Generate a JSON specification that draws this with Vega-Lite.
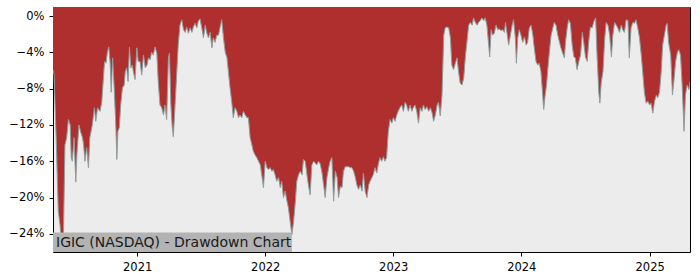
{
  "$schema": "https://vega.github.io/schema/vega-lite/v6.json",
  "width": 637,
  "height": 245,
  "autosize": {"type": "none"},
  "padding": {"left": 53, "top": 7, "right": 10, "bottom": 28},
  "background": "white",
  "config": {
    "view": {"stroke": "black", "strokeWidth": 1, "fill": "#ececec"},
    "font": "DejaVu Sans",
    "axis": {
      "domain": false,
      "grid": false,
      "ticks": true,
      "tickColor": "black",
      "tickSize": 4,
      "labelColor": "black",
      "labelFont": "DejaVu Sans",
      "labelFontSize": 11.5,
      "title": null
    }
  },
  "data": {
    "values": [
      {"date": "2020-05-06", "dd": -5.9},
      {"date": "2020-05-09", "dd": -6.5},
      {"date": "2020-05-15", "dd": -13.4},
      {"date": "2020-05-21", "dd": -21.5},
      {"date": "2020-05-26", "dd": -23.0},
      {"date": "2020-05-31", "dd": -25.5},
      {"date": "2020-06-05", "dd": -23.7},
      {"date": "2020-06-09", "dd": -14.2},
      {"date": "2020-06-14", "dd": -13.4},
      {"date": "2020-06-19", "dd": -11.4},
      {"date": "2020-06-24", "dd": -12.0},
      {"date": "2020-06-27", "dd": -15.6},
      {"date": "2020-06-30", "dd": -16.0},
      {"date": "2020-07-05", "dd": -13.4},
      {"date": "2020-07-10", "dd": -18.3},
      {"date": "2020-07-13", "dd": -15.3},
      {"date": "2020-07-19", "dd": -12.0},
      {"date": "2020-07-24", "dd": -12.8},
      {"date": "2020-07-29", "dd": -13.4},
      {"date": "2020-08-01", "dd": -14.1},
      {"date": "2020-08-05", "dd": -16.0},
      {"date": "2020-08-10", "dd": -14.5},
      {"date": "2020-08-15", "dd": -16.7},
      {"date": "2020-08-19", "dd": -13.4},
      {"date": "2020-08-26", "dd": -12.0},
      {"date": "2020-09-01", "dd": -10.1},
      {"date": "2020-09-05", "dd": -11.6},
      {"date": "2020-09-10", "dd": -10.1},
      {"date": "2020-09-17", "dd": -10.5},
      {"date": "2020-09-22", "dd": -9.5},
      {"date": "2020-09-25", "dd": -7.8},
      {"date": "2020-09-30", "dd": -5.0},
      {"date": "2020-10-04", "dd": -5.2},
      {"date": "2020-10-08", "dd": -4.0},
      {"date": "2020-10-12", "dd": -3.4},
      {"date": "2020-10-16", "dd": -5.2},
      {"date": "2020-10-19", "dd": -8.4},
      {"date": "2020-10-23", "dd": -4.6},
      {"date": "2020-10-27", "dd": -7.6},
      {"date": "2020-11-01", "dd": -12.0},
      {"date": "2020-11-04", "dd": -15.8},
      {"date": "2020-11-07", "dd": -12.7},
      {"date": "2020-11-11", "dd": -12.3},
      {"date": "2020-11-15", "dd": -9.8},
      {"date": "2020-11-20", "dd": -7.9},
      {"date": "2020-11-25", "dd": -7.6},
      {"date": "2020-11-28", "dd": -6.1},
      {"date": "2020-12-02", "dd": -5.7},
      {"date": "2020-12-06", "dd": -7.2},
      {"date": "2020-12-10", "dd": -3.4},
      {"date": "2020-12-14", "dd": -5.7},
      {"date": "2020-12-18", "dd": -5.4},
      {"date": "2020-12-21", "dd": -6.1},
      {"date": "2020-12-26", "dd": -7.0},
      {"date": "2020-12-31", "dd": -3.5},
      {"date": "2021-01-04", "dd": -5.0},
      {"date": "2021-01-09", "dd": -5.0},
      {"date": "2021-01-14", "dd": -6.5},
      {"date": "2021-01-19", "dd": -4.3},
      {"date": "2021-01-24", "dd": -5.7},
      {"date": "2021-01-29", "dd": -5.4},
      {"date": "2021-02-02", "dd": -4.6},
      {"date": "2021-02-07", "dd": -4.8},
      {"date": "2021-02-11", "dd": -4.0},
      {"date": "2021-02-16", "dd": -4.3},
      {"date": "2021-02-21", "dd": -3.4},
      {"date": "2021-02-26", "dd": -4.1},
      {"date": "2021-03-02", "dd": -7.2},
      {"date": "2021-03-07", "dd": -9.8},
      {"date": "2021-03-12", "dd": -10.1},
      {"date": "2021-03-17", "dd": -10.9},
      {"date": "2021-03-21", "dd": -9.8},
      {"date": "2021-03-26", "dd": -11.4},
      {"date": "2021-03-31", "dd": -4.6},
      {"date": "2021-04-03", "dd": -4.1},
      {"date": "2021-04-07", "dd": -9.8},
      {"date": "2021-04-11", "dd": -12.3},
      {"date": "2021-04-14", "dd": -13.3},
      {"date": "2021-04-19", "dd": -9.8},
      {"date": "2021-04-24", "dd": -6.1},
      {"date": "2021-04-28", "dd": -3.2},
      {"date": "2021-05-03", "dd": -1.0},
      {"date": "2021-05-08", "dd": -0.4},
      {"date": "2021-05-13", "dd": -1.5},
      {"date": "2021-05-18", "dd": -1.8},
      {"date": "2021-05-22", "dd": -1.2},
      {"date": "2021-05-27", "dd": -1.9},
      {"date": "2021-06-01", "dd": -1.3},
      {"date": "2021-06-06", "dd": -1.8},
      {"date": "2021-06-10", "dd": -1.2},
      {"date": "2021-06-15", "dd": -0.8},
      {"date": "2021-06-20", "dd": -1.3},
      {"date": "2021-06-24", "dd": -0.6},
      {"date": "2021-06-29", "dd": -0.3},
      {"date": "2021-07-04", "dd": -1.3},
      {"date": "2021-07-09", "dd": -2.4},
      {"date": "2021-07-14", "dd": -1.0},
      {"date": "2021-07-18", "dd": -1.8},
      {"date": "2021-07-23", "dd": -2.4},
      {"date": "2021-07-28", "dd": -1.8},
      {"date": "2021-08-02", "dd": -3.5},
      {"date": "2021-08-06", "dd": -2.4},
      {"date": "2021-08-11", "dd": -2.9},
      {"date": "2021-08-16", "dd": -2.1},
      {"date": "2021-08-21", "dd": -2.1},
      {"date": "2021-08-25", "dd": -1.3},
      {"date": "2021-08-30", "dd": -0.4},
      {"date": "2021-09-04", "dd": -2.4},
      {"date": "2021-09-09", "dd": -4.0},
      {"date": "2021-09-14", "dd": -4.6},
      {"date": "2021-09-18", "dd": -6.1},
      {"date": "2021-09-23", "dd": -8.0},
      {"date": "2021-09-28", "dd": -9.6},
      {"date": "2021-10-02", "dd": -11.2},
      {"date": "2021-10-07", "dd": -10.1},
      {"date": "2021-10-12", "dd": -10.5},
      {"date": "2021-10-17", "dd": -11.2},
      {"date": "2021-10-21", "dd": -10.9},
      {"date": "2021-10-26", "dd": -11.2},
      {"date": "2021-10-31", "dd": -10.5},
      {"date": "2021-11-05", "dd": -10.9},
      {"date": "2021-11-10", "dd": -11.2},
      {"date": "2021-11-14", "dd": -11.2},
      {"date": "2021-11-19", "dd": -13.4},
      {"date": "2021-11-24", "dd": -14.2},
      {"date": "2021-11-28", "dd": -14.9},
      {"date": "2021-12-03", "dd": -15.3},
      {"date": "2021-12-08", "dd": -15.6},
      {"date": "2021-12-13", "dd": -16.0},
      {"date": "2021-12-18", "dd": -16.4},
      {"date": "2021-12-22", "dd": -17.5},
      {"date": "2021-12-27", "dd": -18.9},
      {"date": "2022-01-01", "dd": -16.0},
      {"date": "2022-01-06", "dd": -16.7},
      {"date": "2022-01-10", "dd": -16.9},
      {"date": "2022-01-15", "dd": -16.7},
      {"date": "2022-01-20", "dd": -17.1},
      {"date": "2022-01-24", "dd": -16.9},
      {"date": "2022-01-29", "dd": -17.5},
      {"date": "2022-02-03", "dd": -18.2},
      {"date": "2022-02-08", "dd": -17.8},
      {"date": "2022-02-13", "dd": -18.9},
      {"date": "2022-02-17", "dd": -18.2},
      {"date": "2022-02-22", "dd": -20.0},
      {"date": "2022-02-27", "dd": -19.3},
      {"date": "2022-03-04", "dd": -20.4},
      {"date": "2022-03-08", "dd": -21.1},
      {"date": "2022-03-13", "dd": -22.6},
      {"date": "2022-03-18", "dd": -24.1},
      {"date": "2022-03-23", "dd": -22.6},
      {"date": "2022-03-28", "dd": -20.4},
      {"date": "2022-04-01", "dd": -18.2},
      {"date": "2022-04-06", "dd": -17.5},
      {"date": "2022-04-11", "dd": -17.1},
      {"date": "2022-04-16", "dd": -17.5},
      {"date": "2022-04-20", "dd": -15.8},
      {"date": "2022-04-25", "dd": -16.0},
      {"date": "2022-04-30", "dd": -17.5},
      {"date": "2022-05-04", "dd": -18.6},
      {"date": "2022-05-09", "dd": -19.7},
      {"date": "2022-05-14", "dd": -16.4},
      {"date": "2022-05-19", "dd": -16.0},
      {"date": "2022-05-24", "dd": -16.2},
      {"date": "2022-05-28", "dd": -16.4},
      {"date": "2022-06-02", "dd": -16.0},
      {"date": "2022-06-07", "dd": -16.3},
      {"date": "2022-06-12", "dd": -17.3},
      {"date": "2022-06-16", "dd": -18.5},
      {"date": "2022-06-21", "dd": -20.0},
      {"date": "2022-06-26", "dd": -17.8},
      {"date": "2022-07-01", "dd": -16.7},
      {"date": "2022-07-05", "dd": -16.0},
      {"date": "2022-07-10", "dd": -15.6},
      {"date": "2022-07-15", "dd": -20.4},
      {"date": "2022-07-20", "dd": -17.1},
      {"date": "2022-07-25", "dd": -17.8},
      {"date": "2022-07-29", "dd": -20.0},
      {"date": "2022-08-03", "dd": -18.8},
      {"date": "2022-08-08", "dd": -18.9},
      {"date": "2022-08-12", "dd": -17.1},
      {"date": "2022-08-17", "dd": -16.6},
      {"date": "2022-08-22", "dd": -16.6},
      {"date": "2022-08-27", "dd": -16.6},
      {"date": "2022-08-31", "dd": -16.7},
      {"date": "2022-09-05", "dd": -16.7},
      {"date": "2022-09-10", "dd": -17.1},
      {"date": "2022-09-15", "dd": -17.8},
      {"date": "2022-09-19", "dd": -18.6},
      {"date": "2022-09-24", "dd": -19.1},
      {"date": "2022-09-29", "dd": -18.6},
      {"date": "2022-10-04", "dd": -19.3},
      {"date": "2022-10-08", "dd": -17.3},
      {"date": "2022-10-13", "dd": -19.3},
      {"date": "2022-10-18", "dd": -20.0},
      {"date": "2022-10-23", "dd": -18.6},
      {"date": "2022-10-27", "dd": -18.2},
      {"date": "2022-11-01", "dd": -17.8},
      {"date": "2022-11-05", "dd": -17.5},
      {"date": "2022-11-10", "dd": -16.7},
      {"date": "2022-11-15", "dd": -17.3},
      {"date": "2022-11-19", "dd": -16.4},
      {"date": "2022-11-24", "dd": -15.6},
      {"date": "2022-11-29", "dd": -16.0},
      {"date": "2022-12-04", "dd": -15.5},
      {"date": "2022-12-08", "dd": -16.0},
      {"date": "2022-12-13", "dd": -15.6},
      {"date": "2022-12-18", "dd": -12.7},
      {"date": "2022-12-23", "dd": -11.4},
      {"date": "2022-12-28", "dd": -11.8},
      {"date": "2023-01-01", "dd": -11.2},
      {"date": "2023-01-06", "dd": -11.6},
      {"date": "2023-01-11", "dd": -10.9},
      {"date": "2023-01-15", "dd": -10.5},
      {"date": "2023-01-20", "dd": -10.1},
      {"date": "2023-01-25", "dd": -9.8},
      {"date": "2023-01-30", "dd": -10.5},
      {"date": "2023-02-04", "dd": -9.5},
      {"date": "2023-02-08", "dd": -9.8},
      {"date": "2023-02-13", "dd": -10.5},
      {"date": "2023-02-18", "dd": -9.8},
      {"date": "2023-02-23", "dd": -10.5},
      {"date": "2023-02-27", "dd": -10.1},
      {"date": "2023-03-04", "dd": -9.8},
      {"date": "2023-03-09", "dd": -10.5},
      {"date": "2023-03-14", "dd": -11.8},
      {"date": "2023-03-19", "dd": -10.1},
      {"date": "2023-03-24", "dd": -10.5},
      {"date": "2023-03-28", "dd": -9.8},
      {"date": "2023-04-02", "dd": -10.3},
      {"date": "2023-04-07", "dd": -10.0},
      {"date": "2023-04-12", "dd": -10.5},
      {"date": "2023-04-17", "dd": -10.1},
      {"date": "2023-04-22", "dd": -10.7},
      {"date": "2023-04-26", "dd": -11.6},
      {"date": "2023-05-01", "dd": -10.9},
      {"date": "2023-05-06", "dd": -9.8},
      {"date": "2023-05-10", "dd": -9.5},
      {"date": "2023-05-15", "dd": -11.0},
      {"date": "2023-05-20", "dd": -8.7},
      {"date": "2023-05-25", "dd": -2.1},
      {"date": "2023-05-29", "dd": -1.3},
      {"date": "2023-06-03", "dd": -1.2},
      {"date": "2023-06-08", "dd": -1.3},
      {"date": "2023-06-13", "dd": -2.4},
      {"date": "2023-06-17", "dd": -5.4},
      {"date": "2023-06-22", "dd": -5.9},
      {"date": "2023-06-27", "dd": -5.2},
      {"date": "2023-07-02", "dd": -4.6},
      {"date": "2023-07-06", "dd": -6.1},
      {"date": "2023-07-11", "dd": -7.4},
      {"date": "2023-07-16", "dd": -7.6},
      {"date": "2023-07-21", "dd": -6.8},
      {"date": "2023-07-26", "dd": -4.3},
      {"date": "2023-07-30", "dd": -2.9},
      {"date": "2023-08-04", "dd": -1.0},
      {"date": "2023-08-09", "dd": -0.7},
      {"date": "2023-08-14", "dd": -1.0},
      {"date": "2023-08-18", "dd": -0.2},
      {"date": "2023-08-23", "dd": -0.7},
      {"date": "2023-08-28", "dd": -1.0},
      {"date": "2023-09-01", "dd": -0.7},
      {"date": "2023-09-06", "dd": -0.5},
      {"date": "2023-09-11", "dd": -0.2},
      {"date": "2023-09-16", "dd": -0.5},
      {"date": "2023-09-20", "dd": -0.2},
      {"date": "2023-09-25", "dd": -1.0},
      {"date": "2023-09-30", "dd": -3.2},
      {"date": "2023-10-03", "dd": -4.5},
      {"date": "2023-10-07", "dd": -1.5},
      {"date": "2023-10-11", "dd": -2.1},
      {"date": "2023-10-16", "dd": -1.9},
      {"date": "2023-10-21", "dd": -1.0},
      {"date": "2023-10-26", "dd": -1.5},
      {"date": "2023-10-30", "dd": -1.4},
      {"date": "2023-11-04", "dd": -1.6},
      {"date": "2023-11-09", "dd": -1.5},
      {"date": "2023-11-14", "dd": -1.8},
      {"date": "2023-11-17", "dd": -0.7},
      {"date": "2023-11-21", "dd": -1.8},
      {"date": "2023-11-26", "dd": -3.2},
      {"date": "2023-12-01", "dd": -2.1},
      {"date": "2023-12-06", "dd": -1.0},
      {"date": "2023-12-10", "dd": -0.4},
      {"date": "2023-12-15", "dd": -2.4},
      {"date": "2023-12-18", "dd": -5.2},
      {"date": "2023-12-22", "dd": -2.4},
      {"date": "2023-12-26", "dd": -1.5},
      {"date": "2023-12-31", "dd": -2.1},
      {"date": "2024-01-05", "dd": -2.9},
      {"date": "2024-01-10", "dd": -2.3},
      {"date": "2024-01-15", "dd": -3.2},
      {"date": "2024-01-19", "dd": -2.9},
      {"date": "2024-01-24", "dd": -1.3},
      {"date": "2024-01-29", "dd": -1.0},
      {"date": "2024-02-03", "dd": -2.1},
      {"date": "2024-02-07", "dd": -3.5},
      {"date": "2024-02-12", "dd": -5.0},
      {"date": "2024-02-17", "dd": -5.4},
      {"date": "2024-02-21", "dd": -5.2},
      {"date": "2024-02-26", "dd": -6.1},
      {"date": "2024-03-02", "dd": -8.7},
      {"date": "2024-03-05", "dd": -10.3},
      {"date": "2024-03-09", "dd": -8.7},
      {"date": "2024-03-13", "dd": -7.6},
      {"date": "2024-03-17", "dd": -5.7},
      {"date": "2024-03-21", "dd": -4.0},
      {"date": "2024-03-26", "dd": -2.1},
      {"date": "2024-03-31", "dd": -1.3},
      {"date": "2024-04-04", "dd": -0.7},
      {"date": "2024-04-09", "dd": -1.0},
      {"date": "2024-04-14", "dd": -2.1},
      {"date": "2024-04-19", "dd": -2.9},
      {"date": "2024-04-23", "dd": -3.5},
      {"date": "2024-04-28", "dd": -4.1},
      {"date": "2024-05-03", "dd": -4.6},
      {"date": "2024-05-06", "dd": -2.9},
      {"date": "2024-05-11", "dd": -1.3},
      {"date": "2024-05-15", "dd": -0.4},
      {"date": "2024-05-20", "dd": -0.8},
      {"date": "2024-05-25", "dd": -3.2},
      {"date": "2024-05-30", "dd": -4.5},
      {"date": "2024-06-03", "dd": -4.6},
      {"date": "2024-06-08", "dd": -5.9},
      {"date": "2024-06-13", "dd": -5.0},
      {"date": "2024-06-18", "dd": -4.3},
      {"date": "2024-06-23", "dd": -1.8},
      {"date": "2024-06-27", "dd": -2.9},
      {"date": "2024-07-02", "dd": -4.5},
      {"date": "2024-07-07", "dd": -5.0},
      {"date": "2024-07-11", "dd": -2.9},
      {"date": "2024-07-16", "dd": -1.2},
      {"date": "2024-07-21", "dd": -1.3},
      {"date": "2024-07-26", "dd": -0.6},
      {"date": "2024-07-31", "dd": -0.2},
      {"date": "2024-08-04", "dd": -4.3},
      {"date": "2024-08-09", "dd": -8.4},
      {"date": "2024-08-12", "dd": -9.6},
      {"date": "2024-08-16", "dd": -7.3},
      {"date": "2024-08-21", "dd": -6.1},
      {"date": "2024-08-26", "dd": -2.4},
      {"date": "2024-08-30", "dd": -0.7},
      {"date": "2024-09-04", "dd": -1.0},
      {"date": "2024-09-09", "dd": -2.1},
      {"date": "2024-09-14", "dd": -4.5},
      {"date": "2024-09-18", "dd": -2.1},
      {"date": "2024-09-23", "dd": -0.7},
      {"date": "2024-09-28", "dd": -1.0},
      {"date": "2024-10-02", "dd": -1.3},
      {"date": "2024-10-07", "dd": -1.8},
      {"date": "2024-10-12", "dd": -1.0},
      {"date": "2024-10-16", "dd": -1.5},
      {"date": "2024-10-21", "dd": -1.8},
      {"date": "2024-10-26", "dd": -0.4},
      {"date": "2024-10-31", "dd": -0.5},
      {"date": "2024-11-04", "dd": -4.6},
      {"date": "2024-11-09", "dd": -1.3},
      {"date": "2024-11-14", "dd": -0.7},
      {"date": "2024-11-19", "dd": -0.8},
      {"date": "2024-11-23", "dd": -0.4},
      {"date": "2024-11-28", "dd": -1.3},
      {"date": "2024-12-03", "dd": -2.4},
      {"date": "2024-12-08", "dd": -4.3},
      {"date": "2024-12-12", "dd": -6.1},
      {"date": "2024-12-17", "dd": -8.4},
      {"date": "2024-12-22", "dd": -9.6},
      {"date": "2024-12-27", "dd": -9.4},
      {"date": "2025-01-01", "dd": -9.8},
      {"date": "2025-01-05", "dd": -9.6},
      {"date": "2025-01-10", "dd": -10.7},
      {"date": "2025-01-15", "dd": -9.4},
      {"date": "2025-01-20", "dd": -8.7},
      {"date": "2025-01-24", "dd": -9.0},
      {"date": "2025-01-29", "dd": -8.4},
      {"date": "2025-02-03", "dd": -6.1},
      {"date": "2025-02-07", "dd": -3.2},
      {"date": "2025-02-12", "dd": -2.1},
      {"date": "2025-02-17", "dd": -1.0},
      {"date": "2025-02-20", "dd": -0.8},
      {"date": "2025-02-24", "dd": -2.9},
      {"date": "2025-03-02", "dd": -4.3},
      {"date": "2025-03-07", "dd": -8.7},
      {"date": "2025-03-11", "dd": -7.2},
      {"date": "2025-03-16", "dd": -5.0},
      {"date": "2025-03-21", "dd": -4.0},
      {"date": "2025-03-25", "dd": -3.7},
      {"date": "2025-03-30", "dd": -4.3},
      {"date": "2025-04-04", "dd": -7.9},
      {"date": "2025-04-09", "dd": -12.7},
      {"date": "2025-04-13", "dd": -8.7},
      {"date": "2025-04-18", "dd": -7.6},
      {"date": "2025-04-23", "dd": -8.1},
      {"date": "2025-04-26", "dd": -7.2}
    ]
  },
  "encoding": {
    "x": {
      "field": "date",
      "type": "temporal",
      "scale": {"domain": [{"year": 2020, "month": 5, "date": 6}, {"year": 2025, "month": 4, "date": 26}]},
      "axis": {
        "values": [{"year": 2021, "month": 1, "date": 1}, {"year": 2022, "month": 1, "date": 1}, {"year": 2023, "month": 1, "date": 1}, {"year": 2024, "month": 1, "date": 1}, {"year": 2025, "month": 1, "date": 1}],
        "format": "%Y",
        "labelPadding": 5,
        "labelFlush": false,
        "labelOverlap": false
      }
    },
    "y": {
      "field": "dd",
      "type": "quantitative",
      "scale": {"domain": [-26, 1], "nice": false, "zero": false},
      "axis": {
        "values": [0, -4, -8, -12, -16, -20, -24],
        "labelExpr": "format(datum.value, 'd') + '%'",
        "labelPadding": 5
      }
    }
  },
  "layer": [
    {
      "mark": {"type": "area", "color": "#af2f2f", "clip": true},
      "encoding": {"y2": {"datum": 1}}
    },
    {
      "mark": {"type": "line", "color": "#919d9d", "strokeWidth": 1, "clip": true}
    },
    {
      "transform": [{"filter": "datum.dd == -25.5"}],
      "mark": {"type": "rect", "color": "#b3b3b3"},
      "encoding": {
        "x": {"datum": {"year": 2020, "month": 5, "date": 6}, "type": "temporal"},
        "x2": {"datum": {"year": 2022, "month": 3, "date": 18}},
        "y": {"datum": -26, "type": "quantitative"},
        "y2": {"datum": -23.85}
      }
    },
    {
      "transform": [{"filter": "datum.dd == -25.5"}],
      "mark": {"type": "text", "align": "left", "baseline": "alphabetic", "dx": 3, "font": "DejaVu Sans", "fontSize": 14, "color": "#1a1a1a", "text": "IGIC (NASDAQ) - Drawdown Chart"},
      "encoding": {
        "x": {"datum": {"year": 2020, "month": 5, "date": 6}, "type": "temporal"},
        "y": {"datum": -25.45, "type": "quantitative"}
      }
    }
  ]
}
